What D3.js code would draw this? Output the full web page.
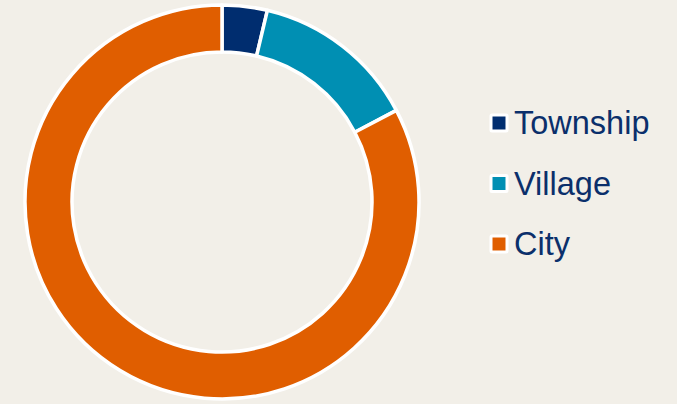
<!DOCTYPE html>
<html>
<head>
<meta charset="utf-8">
<script src="https://cdn.jsdelivr.net/npm/d3@7"></script>
<style>
  html, body { margin: 0; padding: 0; background: #f2efe8; }
  svg { display: block; }
</style>
</head>
<body>
<div class="chart-container"></div>
<script>
// Data
const categories = ['Township', 'Village', 'City'];
const shares = [3.7, 13.6, 82.7];
const colors = ['#002d6f', '#008fb3', '#e05e00'];

// Dimensions
const width = 677,
    height = 404,
    cx = 222,
    cy = 202,
    outerR = 197,
    innerR = 150;

const svg = d3.select('.chart-container')
    .append('svg')
        .attr('width', width)
        .attr('height', height);

const data = categories.map((c, i) => ({ name: c, value: shares[i], color: colors[i] }));

// Build pie.
const pie = d3.pie().sort(null).value(d => d.value);
const arc = d3.arc().innerRadius(innerR).outerRadius(outerR);

svg.append('g')
    .attr('transform', `translate(${cx}, ${cy})`)
    .selectAll('path')
    .data(pie(data))
    .join('path')
        .attr('d', arc)
        .attr('fill', d => d.data.color)
        .attr('stroke', '#fff')
        .attr('stroke-width', 3.5)
        .attr('stroke-linejoin', 'round');

// Legend
const legendY = d3.scalePoint().domain(categories).range([123, 244]);

const legend = svg.append('g').attr('class', 'legend')
    .selectAll('g')
    .data(data)
    .join('g')
        .attr('transform', d => `translate(499, ${legendY(d.name)})`);

legend.append('rect')
    .attr('x', -8)
    .attr('y', -8)
    .attr('width', 16)
    .attr('height', 16)
    .attr('rx', 1)
    .attr('fill', d => d.color)
    .attr('stroke', '#fff')
    .attr('stroke-width', 3);

legend.append('text')
    .attr('x', 15)
    .attr('y', 11)
    .attr('fill', '#0b2f6b')
    .style('font-family', 'Arial, "Liberation Sans", sans-serif')
    .style('font-size', '32.5px')
    .text(d => d.name);
</script>
</body>
</html>
